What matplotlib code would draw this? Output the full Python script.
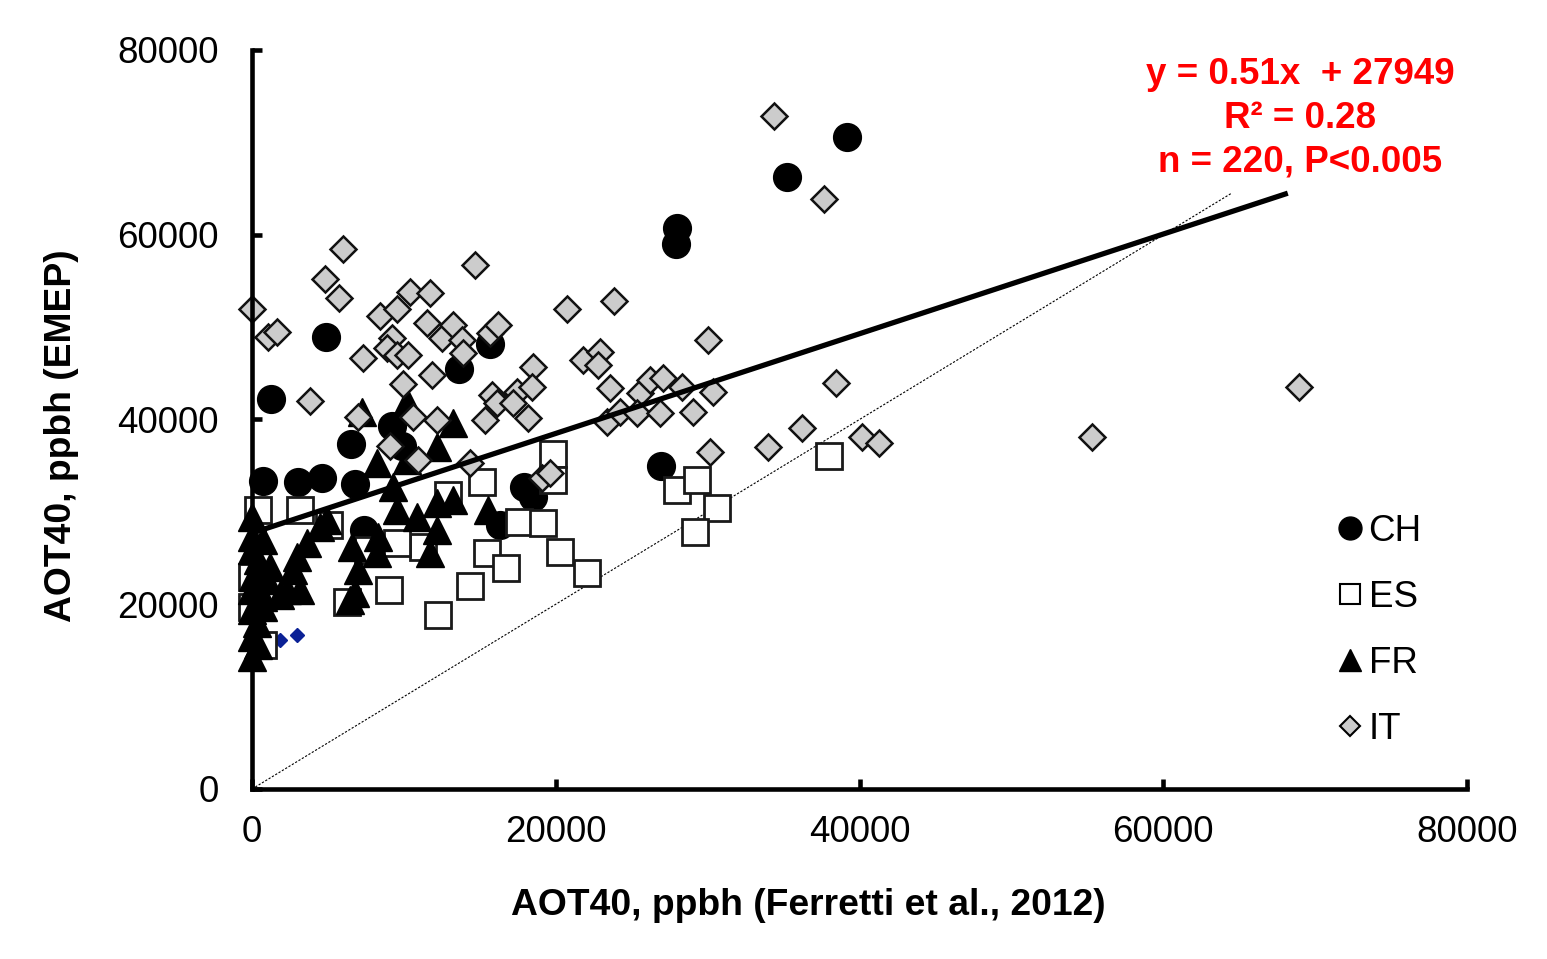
import matplotlib
matplotlib.use("Agg")
import matplotlib.pyplot as plt
from matplotlib.lines import Line2D

plt.rcParams['font.family'] = ['Liberation Sans', 'DejaVu Sans']

# ---- data ----
ch_x = [39200, 35200, 28000, 27950, 4900, 15700, 13600, 1250, 9200, 9900, 6500, 26900,
        700, 3000, 4600, 6800, 17900, 18500, 16300, 7400, 19750]
ch_y = [70600, 66200, 60700, 59000, 48900, 48200, 45500, 42200, 39300, 37100, 37300, 35000,
        33300, 33200, 33700, 33000, 32700, 31600, 28600, 28000, 34300]

es_x = [400, 3150, 5100, 6250, 9000, 12250, 14350, 15500, 16700, 17600, 19150, 19800, 19800,
        20300, 22050, 28000, 29300, 30600, 29150, 38000, 12900, 15150, 11250, 9550, 7650,
        700, 0, 0]
es_y = [30200, 30200, 28600, 20200, 21500, 18800, 22000, 25500, 23900, 28900, 28800, 36300, 33400,
        25650, 23400, 32400, 33450, 30400, 27800, 36000, 31800, 33200, 26200, 26600, 25900,
        15600, 22900, 19700]

fr_x = [7250, 10200, 13250, 12200, 8250, 10200, 9300, 9550, 12200, 13250, 10850, 12200, 11700,
        15550, 8300, 6600, 8250, 7000, 6800, 6450, 4950, 4500, 3600, 2950, 2700, 3150, 2300,
        1200, 0, 0, 0, 50, 1000, 0, 0, 350, 0, 0, 700, 700, 400, 700, 400, 1850]
fr_y = [40800, 41900, 39600, 37000, 35300, 35600, 32700, 30200, 30950, 31300, 29450, 28000, 25550,
        30200, 27300, 26200, 25550, 23700, 21200, 20450, 29100, 28350, 26600, 25100, 23700, 21550, 21550,
        24000, 29450, 27300, 25850, 22950, 22600, 21550, 19400, 17950, 16450, 14300, 19700, 26950,
        24800, 20800, 15600, 21000]

it_x = [34350, 37650, 0, 6000, 4800, 5750, 1050, 1650, 3800, 7300, 8450, 9550, 10400, 11700,
        11500, 12500, 13250, 13800, 13900, 14700, 15650, 16200, 9200, 8900, 9550, 10250, 11850,
        9950, 15800, 17450, 16150, 15350, 7000, 10600, 12200, 9100, 10950, 14350, 20750, 23850,
        30000, 18500, 18450, 17200, 18150, 21800, 22900, 22800, 23550, 23350, 24250, 25550, 26200,
        27050, 25350, 26850, 28300, 29050, 30350, 30150, 34000, 36200, 38450, 40150, 41300, 55300,
        68950, 19100, 19600]
it_y = [72850, 63850, 51950, 58450, 55200, 53150, 48950, 49450, 42000, 46650, 51200, 51950, 53800,
        53700, 50450, 48800, 50250, 48600, 47200, 56700, 49350, 50250, 48800, 47750, 47000, 47000,
        44800, 43850, 42650, 42950, 41800, 39950, 40250, 40250, 39950, 37150, 35600, 35300, 51950,
        52800, 48600, 45700, 43500, 41800, 40150, 46450, 47300, 45900, 43400, 39750, 40800, 42850,
        44300, 44500, 40700, 40700, 43500, 40800, 42950, 36500, 37000, 39100, 43950, 38100, 37450,
        38100, 43500, 33650, 34200]

extra_x = [1850, 2950]          # small blue points
extra_y = [16150, 16650]

trend_x = [0, 68200]            # regression line as drawn
trend_y = [27700, 64500]
one_to_one = [0, 64500]         # 1:1 dotted line

ticks = [0, 20000, 40000, 60000, 80000]
tick_labels = ['0', '20000', '40000', '60000', '80000']
legend_labels = ['CH', 'ES', 'FR', 'IT']
eq_lines = ['y = 0.51x  + 27949', 'R\u00b2 = 0.28', 'n = 220, P<0.005']

# ---- figure ----
W, H = 1547, 959
fig = plt.figure(figsize=(W / 100, H / 100), dpi=100)
ax = fig.add_axes([252 / W, 1 - 789 / H, 1215 / W, 739 / H])
ax.set_xlim(0, 80000)
ax.set_ylim(0, 80000)

ax.plot(one_to_one, one_to_one, color='black', lw=0.8, ls=(0, (2, 1.5)), zorder=1)
ax.plot(extra_x, extra_y, ls='none', marker='D', ms=7, mfc='#0b2196', mec='#0b2196',
        clip_on=False, zorder=2)
ax.plot(ch_x, ch_y, ls='none', marker='o', ms=20, mfc='black', mec='black', mew=1,
        clip_on=False, zorder=3)
ax.plot(es_x, es_y, ls='none', marker='s', ms=18.5, mfc='white', mec='#1a1a1a', mew=2,
        clip_on=False, zorder=4)
ax.plot(fr_x, fr_y, ls='none', marker='^', ms=20, mfc='black', mec='black', mew=1,
        clip_on=False, zorder=5)
ax.plot(it_x, it_y, ls='none', marker='D', ms=13.5, mfc='#cccccc', mec='#111111', mew=1.8,
        clip_on=False, zorder=6)
ax.plot(trend_x, trend_y, color='black', lw=3.8, solid_capstyle='butt', zorder=7)

for s in ['top', 'right']:
    ax.spines[s].set_visible(False)
for s in ['left', 'bottom']:
    ax.spines[s].set_linewidth(3.3)
    ax.spines[s].set_zorder(8)

ax.set_xticks(ticks)
ax.set_xticklabels(tick_labels)
ax.set_yticks(ticks)
ax.set_yticklabels(tick_labels)
ax.tick_params(axis='both', direction='in', length=7, width=3.3, labelsize=26.5)
ax.tick_params(axis='x', pad=19)
ax.tick_params(axis='y', pad=24)

ax.set_xlabel('AOT40, ppbh (Ferretti et al., 2012)', fontsize=26.8, fontweight='bold')
ax.set_ylabel('AOT40, ppbh (EMEP)', fontsize=26.8, fontweight='bold')
ax.xaxis.label.set_va('center')
ax.yaxis.label.set_va('center')
ax.xaxis.set_label_coords(0.4576, -0.157)
ax.yaxis.set_label_coords(-0.1564, 0.4777)

# regression text
for txt, py in zip(eq_lines, [74, 118, 162]):
    fig.text(1300 / W, 1 - py / H, txt, color='#ff0000', fontsize=26.5, fontweight='bold',
             ha='center', va='center')

# legend
handles = [
    Line2D([], [], ls='none', marker='o', ms=16.5, mfc='black', mec='black'),
    Line2D([], [], ls='none', marker='s', ms=14.5, mfc='white', mec='black', mew=1.5),
    Line2D([], [], ls='none', marker='^', ms=16.5, mfc='black', mec='black'),
    Line2D([], [], ls='none', marker='D', ms=10.5, mfc='#cccccc', mec='black', mew=1.5),
]
ax.legend(handles, legend_labels, loc='center left', bbox_to_anchor=(0.8947, 0.2145),
          frameon=False, fontsize=26.5, handlelength=0.6, handletextpad=0.2,
          labelspacing=0.84, borderpad=0, borderaxespad=0)

fig.savefig('out.png', dpi=100)
